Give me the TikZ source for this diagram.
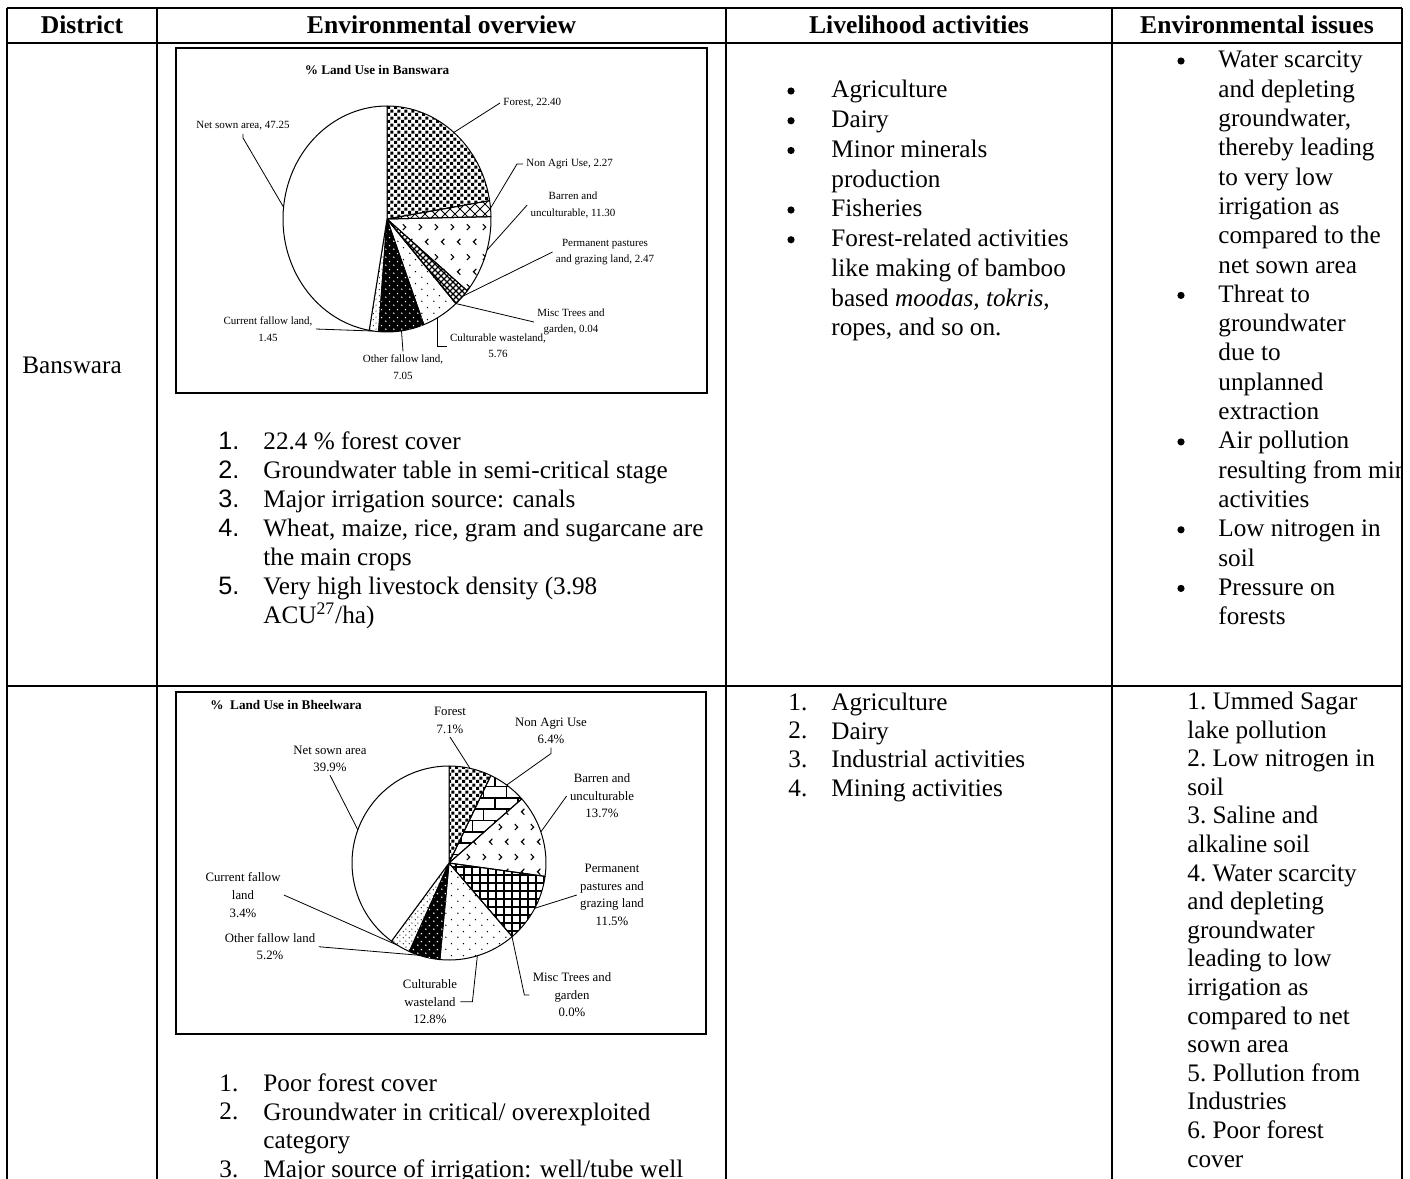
\documentclass[tikz,border=0pt]{standalone}
\usepackage{fontspec}
\setmainfont{Liberation Serif}
\setsansfont{Liberation Sans}
\usetikzlibrary{patterns}

% fill patterns of the two pie charts
\pgfdeclarepatternformonly{pForest}{\pgfqpoint{0pt}{0pt}}{\pgfqpoint{3.4pt}{3.4pt}}{\pgfqpoint{3.4pt}{3.4pt}}{%
  \pgfpathrectangle{\pgfqpoint{0pt}{0pt}}{\pgfqpoint{1.55pt}{1.55pt}}%
  \pgfpathrectangle{\pgfqpoint{1.7pt}{1.7pt}}{\pgfqpoint{1.55pt}{1.55pt}}%
  \pgfusepath{fill}}
\pgfdeclarepatternformonly{pDiamond}{\pgfqpoint{-0.5pt}{-0.5pt}}{\pgfqpoint{5.5pt}{5.5pt}}{\pgfqpoint{5pt}{5pt}}{%
  \pgfsetlinewidth{0.5pt}%
  \pgfpathmoveto{\pgfqpoint{0pt}{0pt}}\pgfpathlineto{\pgfqpoint{5pt}{5pt}}%
  \pgfpathmoveto{\pgfqpoint{0pt}{5pt}}\pgfpathlineto{\pgfqpoint{5pt}{0pt}}%
  \pgfusepath{stroke}}
\pgfdeclarepatternformonly{pHatch}{\pgfqpoint{-0.5pt}{-0.5pt}}{\pgfqpoint{3.5pt}{3.5pt}}{\pgfqpoint{3pt}{3pt}}{%
  \pgfsetlinewidth{0.55pt}%
  \pgfpathmoveto{\pgfqpoint{0pt}{0pt}}\pgfpathlineto{\pgfqpoint{3pt}{3pt}}%
  \pgfpathmoveto{\pgfqpoint{0pt}{3pt}}\pgfpathlineto{\pgfqpoint{3pt}{0pt}}%
  \pgfusepath{stroke}}
\pgfdeclarepatternformonly{pChev}{\pgfqpoint{0pt}{0pt}}{\pgfqpoint{8pt}{15pt}}{\pgfqpoint{8pt}{15pt}}{%
  \pgfsetlinewidth{0.6pt}%
  \pgfpathmoveto{\pgfqpoint{1.5pt}{12.7pt}}\pgfpathlineto{\pgfqpoint{3pt}{11.2pt}}\pgfpathlineto{\pgfqpoint{1.5pt}{9.7pt}}%
  \pgfpathmoveto{\pgfqpoint{6.5pt}{5.2pt}}\pgfpathlineto{\pgfqpoint{5pt}{3.7pt}}\pgfpathlineto{\pgfqpoint{6.5pt}{2.2pt}}%
  \pgfusepath{stroke}}
\pgfdeclarepatternformonly{pGrid}{\pgfqpoint{-0.5pt}{-0.5pt}}{\pgfqpoint{4.5pt}{4.5pt}}{\pgfqpoint{4pt}{4pt}}{%
  \pgfsetlinewidth{0.55pt}%
  \pgfpathmoveto{\pgfqpoint{0pt}{0pt}}\pgfpathlineto{\pgfqpoint{4pt}{0pt}}%
  \pgfpathmoveto{\pgfqpoint{0pt}{0pt}}\pgfpathlineto{\pgfqpoint{0pt}{4pt}}%
  \pgfusepath{stroke}}
\pgfdeclarepatternformonly{pSparse}{\pgfqpoint{0pt}{0pt}}{\pgfqpoint{6pt}{6pt}}{\pgfqpoint{6pt}{6pt}}{%
  \pgfpathcircle{\pgfqpoint{1pt}{1pt}}{0.4pt}%
  \pgfpathcircle{\pgfqpoint{4pt}{4pt}}{0.4pt}%
  \pgfusepath{fill}}
\pgfdeclarepatternformonly{pWhite}{\pgfqpoint{0pt}{0pt}}{\pgfqpoint{4pt}{4pt}}{\pgfqpoint{4pt}{4pt}}{%
  \pgfpathcircle{\pgfqpoint{1pt}{1pt}}{0.45pt}%
  \pgfpathcircle{\pgfqpoint{3pt}{3pt}}{0.45pt}%
  \pgfusepath{fill}}
\pgfdeclarepatternformonly{pFine}{\pgfqpoint{0pt}{0pt}}{\pgfqpoint{3pt}{3pt}}{\pgfqpoint{3pt}{3pt}}{%
  \pgfpathcircle{\pgfqpoint{0.75pt}{0.75pt}}{0.35pt}%
  \pgfpathcircle{\pgfqpoint{2.25pt}{2.25pt}}{0.35pt}%
  \pgfusepath{fill}}

\tikzset{
    %table rules
    rule/.style={line width=0.75pt},
    %text of the cells
    cell/.style={
           anchor=north west,
           inner sep=0pt,
           align=left,
           font=\fontsize{12.6}{#1}\selectfont},
    cell/.default=14.5,
    itemmark/.style={anchor=base west, inner sep=0pt, font=\fontsize{12.6}{15}\selectfont},
    bulletdot/.style={circle, fill=black, inner sep=0pt, minimum size=3.6pt},
    headtext/.style={anchor=base, inner sep=0pt, font=\fontsize{12.8}{15}\selectfont\bfseries},
    %charts
    chartbox/.style={draw, line width=0.6pt},
    slice/.style={draw, line width=0.5pt, line join=round},
    lead/.style={line width=0.4pt},
    lblA/.style={align=center, inner sep=1.5pt, font=\fontsize{5.5}{8.2}\selectfont},
    lblB/.style={align=center, inner sep=1.5pt, font=\fontsize{6.4}{8.8}\selectfont},
    ttl/.style={inner sep=0pt, font=\fontsize{6.6}{8}\selectfont\bfseries},
    sForest/.style={pattern=pForest},
    sDiamond/.style={pattern=pDiamond},
    sHatch/.style={pattern=pHatch},
    sChev/.style={pattern=pChev},
    sGrid/.style={pattern=pGrid},
    sBricks/.style={pattern=bricks},
    sSparse/.style={pattern=pSparse},
    sFine/.style={pattern=pFine},
    sBlack/.style={fill=black, postaction={pattern=pWhite, pattern color=white}},
    sNone/.style={fill=white}
}

\begin{document}
\begin{tikzpicture}[x=0.5pt, y=-0.5pt]
 \useasboundingbox (0,0) rectangle (1410,1179);
 \clip (0,0) rectangle (1410,1179);
 %table
    \draw[line width=1pt] (7,8) -- (1402,8);
    \draw[rule] (7,43) -- (1402,43);
    \draw[rule] (7,686) -- (1402,686);
    \foreach \x in {7,157,726,1112,1402}
        \draw[rule] (\x,8) -- (\x,1179);
 %header
    \node[headtext] (hDistrict) at (82,33) {District};
    \node[headtext] (hOverview) at (441.5,33) {Environmental overview};
    \node[headtext] (hLivelihood) at (919,33) {Livelihood activities};
    \node[headtext] (hIssues) at (1257,33) {Environmental issues};

 %Banswara
    \node[itemmark] (dBanswara) at (22,373) {Banswara};
    \draw[chartbox] (176,48) rectangle (707,393);
    \node[ttl] (bTitle) at (377,70) {\% Land Use in Banswara};
    \coordinate (bc) at (387,219);
    \foreach \a/\b/\s in {-90/-9.36/sForest, -9.36/-1.19/sDiamond, -1.19/39.49/sChev,
                          39.49/48.38/sHatch, 48.38/48.53/sNone, 48.53/69.26/sSparse,
                          69.26/94.64/sBlack, 94.64/99.86/sFine, 99.86/270/sNone}
        \draw[slice,\s] (bc) -- ++(\a:104 and 113)
            arc[start angle=\a, end angle=\b, x radius=104, y radius=113] -- cycle;
    \path (bc) ++(-50:104 and 113) coordinate (pbForest);
    \path (bc) ++(-5.5:104 and 113) coordinate (pbNonAgri);
    \path (bc) ++(16:104 and 113) coordinate (pbBarren);
    \path (bc) ++(43:104 and 113) coordinate (pbPasture);
    \path (bc) ++(48.45:104 and 113) coordinate (pbMisc);
    \path (bc) ++(61:104 and 113) coordinate (pbCultur);
    \path (bc) ++(82:104 and 113) coordinate (pbOther);
    \path (bc) ++(97.5:104 and 113) coordinate (pbCurrent);
    \path (bc) ++(186:104 and 113) coordinate (pbSown);
    \node[lblA, anchor=west] (lbForest) at (500,103) {Forest, 22.40};
    \node[lblA, anchor=west] (lbNonAgri) at (523,164) {Non Agri Use, 2.27};
    \node[lblA] (lbBarren) at (573,205) {Barren and\\unculturable, 11.30};
    \node[lblA] (lbPasture) at (605,252) {Permanent pastures\\and grazing land, 2.47};
    \node[lblA] (lbMisc) at (571,322) {Misc Trees and\\garden, 0.04};
    \node[lblA] (lbCultur) at (498,346) {Culturable wasteland,\\5.76};
    \node[lblA] (lbOther) at (403,367) {Other fallow land,\\7.05};
    \node[lblA] (lbCurrent) at (268,329) {Current fallow land,\\1.45};
    \node[lblA] (lbSown) at (243,126) {Net sown area, 47.25};
    \draw[lead] (pbForest) -- (lbForest.west);
    \draw[lead] (pbNonAgri) -- ([xshift=-3pt]lbNonAgri.west) -- (lbNonAgri.west);
    \draw[lead] (pbBarren) -- (lbBarren.west);
    \draw[lead] (pbPasture) -- (lbPasture.west);
    \draw[lead] (pbMisc) -- (lbMisc.west);
    \draw[lead] (pbCultur) |- (lbCultur.west);
    \draw[lead] (pbOther) -- (lbOther.north);
    \draw[lead] (pbCurrent) -- (lbCurrent.east);
    \draw[lead] (lbSown.south) -- ++(0,4) -- (pbSown);

    \foreach \n/\t in {0/1.,1/2.,2/3.,3/4.,5/5.}
        \node[itemmark, font=\fontsize{12.6}{15}\selectfont\sffamily] (bn\n) at (218,449+29*\n) {\t};
    \node[cell] (bOverview) at (263,428.7) {\strut22.4 \% forest cover\\
        Groundwater table in semi-critical stage\\
        Major irrigation source: canals\\
        Wheat, maize, rice, gram and sugarcane are\\
        the main crops\\
        Very high livestock density (3.98\\
        ACU\textsuperscript{27}/ha)};

    \foreach \n in {0,1,2,4,5}
        \node[bulletdot] (bl\n) at (791,91+29.75*\n) {};
    \node[cell=14.875] (bLivelihood) at (831,76.7) {\strut Agriculture\\
        Dairy\\
        Minor minerals\\
        production\\
        Fisheries\\
        Forest-related activities\\
        like making of bamboo\\
        based \textit{moodas, tokris},\\
        ropes, and so on.};

    \begin{scope}
    \clip (1112,43) rectangle (1401,686);
    \foreach \n in {0,8,13,16,18}
        \node[bulletdot] (bi\n) at (1181,61+29.3*\n) {};
    \node[cell=14.65] (bIssues) at (1218,47) {\strut Water scarcity\\
        and depleting\\
        groundwater,\\
        thereby leading\\
        to very low\\
        irrigation as\\
        compared to the\\
        net sown area\\
        Threat to\\
        groundwater\\
        due to\\
        unplanned\\
        extraction\\
        Air pollution\\
        resulting from mining\\
        activities\\
        Low nitrogen in\\
        soil\\
        Pressure on\\
        forests};
    \end{scope}

 %Bheelwara
    \draw[chartbox] (176,692) rectangle (706,1034);
    \node[ttl, anchor=west] (hTitle) at (210,705) {\%\ \ Land Use in Bheelwara};
    \coordinate (hc) at (449,863);
    \foreach \a/\b/\s in {-90/-64.44/sForest, -64.44/-41.4/sBricks, -41.4/7.92/sChev,
                          7.92/49.32/sGrid, 49.32/95.4/sSparse, 95.4/114.12/sBlack,
                          114.12/126.36/sFine, 126.36/270/sNone}
        \draw[slice,\s] (hc) -- ++(\a:97 and 97)
            arc[start angle=\a, end angle=\b, x radius=97, y radius=97] -- cycle;
    \path (hc) ++(-77.5:97) coordinate (phForest);
    \path (hc) ++(-53.5:97) coordinate (phNonAgri);
    \path (hc) ++(-18.7:97) coordinate (phBarren);
    \path (hc) ++(27.8:97) coordinate (phPasture);
    \path (hc) ++(49.5:97) coordinate (phMisc);
    \path (hc) ++(73:97) coordinate (phCultur);
    \path (hc) ++(108:97) coordinate (phOther);
    \path (hc) ++(122:97) coordinate (phCurrent);
    \path (hc) ++(200:97) coordinate (phSown);
    \node[lblB] (lhForest) at (450,720.5) {Forest\\7.1\%};
    \node[lblB] (lhNonAgri) at (551,731) {Non Agri Use\\6.4\%};
    \node[lblB] (lhBarren) at (602,796) {Barren and\\unculturable\\13.7\%};
    \node[lblB] (lhPasture) at (612,895) {Permanent\\pastures and\\grazing land\\11.5\%};
    \node[lblB] (lhMisc) at (572,995) {Misc Trees and\\garden\\0.0\%};
    \node[lblB] (lhCultur) at (430,1001.7) {Culturable\\wasteland\\12.8\%};
    \node[lblB] (lhCurrent) at (243,895) {Current fallow\\land\\3.4\%};
    \node[lblB] (lhOther) at (270,946.7) {Other fallow land\\5.2\%};
    \node[lblB] (lhSown) at (330,758.7) {Net sown area\\39.9\%};
    \draw[lead] (lhForest.south) -- (phForest);
    \draw[lead] (lhNonAgri.south) -- ++(0,6) -- (phNonAgri);
    \draw[lead] (lhBarren.west) -- (phBarren);
    \draw[lead] (lhPasture.west) -- (phPasture);
    \draw[lead] (phMisc) -- ([xshift=-2.5pt]lhMisc.west) -- (lhMisc.west);
    \draw[lead] (phCultur) -- ([xshift=6pt]lhCultur.east) -- (lhCultur.east);
    \draw[lead] (lhOther.east) -- (phOther);
    \draw[lead] (lhCurrent.east) -- (phCurrent);
    \draw[lead] (lhSown.south) -- (phSown);

    \foreach \n/\t in {0/1.,1/2.,3/3.}
        \node[itemmark] (hn\n) at (219,1091+28.8*\n) {\t};
    \node[cell=14.4] (hOverviewText) at (263,1070.8) {\strut Poor forest cover\\
        Groundwater in critical/ overexploited\\
        category\\
        Major source of irrigation: well/tube well};

    \foreach \n in {0,1,2,3}
        \node[itemmark] (hl\n) at (788,710+28.7*\n) {\the\numexpr\n+1\relax.};
    \node[cell=14.35] (hLivelihoodText) at (831,689.9) {\strut Agriculture\\
        Dairy\\
        Industrial activities\\
        Mining activities};

    \node[cell=14.3] (hIssuesText) at (1187,689) {\strut 1.\ Ummed Sagar\\
        lake pollution\\
        2.\ Low nitrogen in\\
        soil\\
        3.\ Saline and\\
        alkaline soil\\
        4.\ Water scarcity\\
        and depleting\\
        groundwater\\
        leading to low\\
        irrigation as\\
        compared to net\\
        sown area\\
        5.\ Pollution from\\
        Industries\\
        6.\ Poor forest\\
        cover};
\end{tikzpicture}
\end{document}
